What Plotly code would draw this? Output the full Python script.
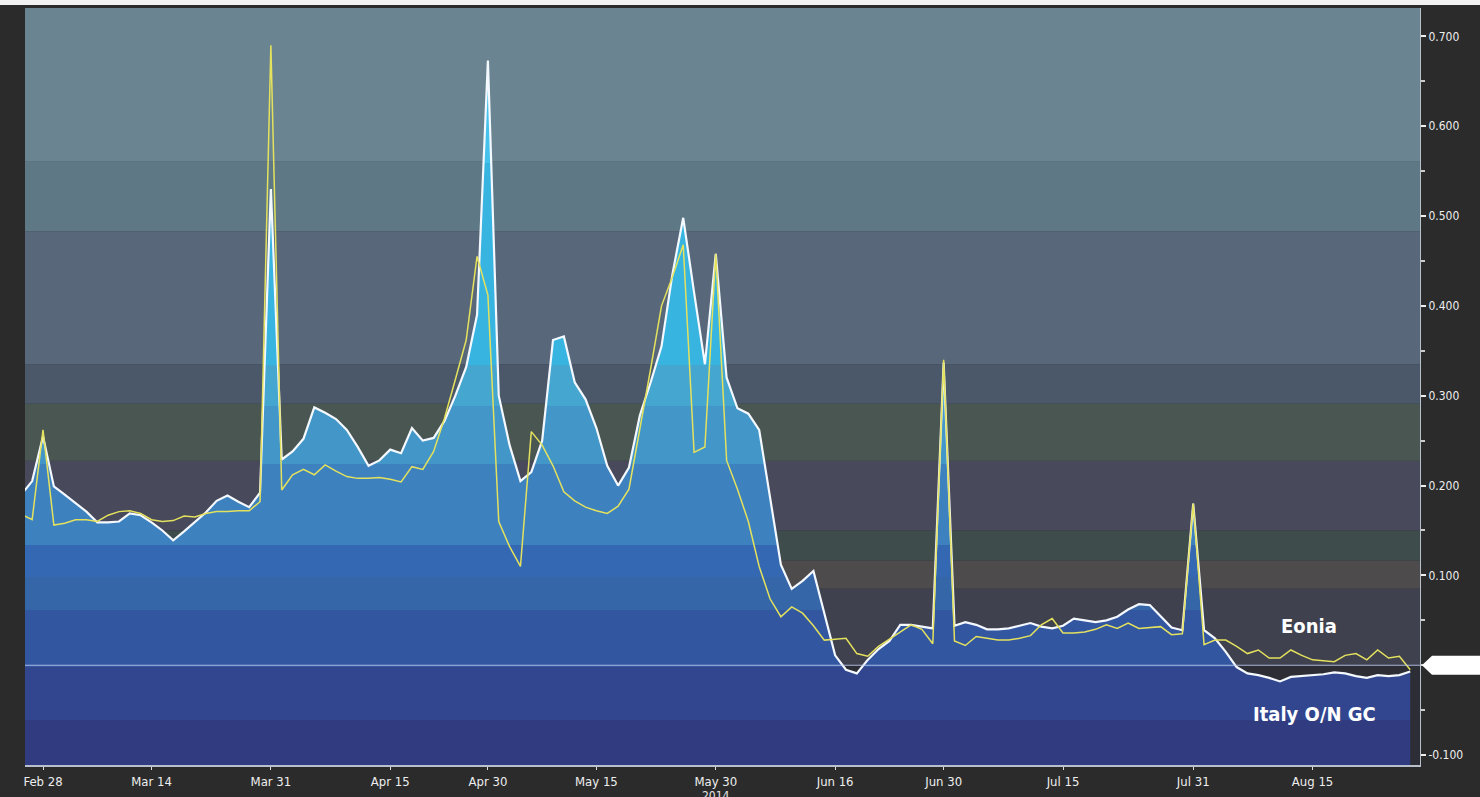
import pandas as pd
import plotly.graph_objects as go

# business days shown on the chart (TARGET holidays have no fixing)
HOLIDAYS = ['2014-04-18', '2014-04-21', '2014-05-01']
DATES = pd.bdate_range('2014-02-26', '2014-08-28', freq='C',
                       holidays=HOLIDAYS).strftime('%Y-%m-%d').tolist()

ITALY_GC = [
    0.190, 0.205, 0.255, 0.199, 0.190, 0.180, 0.171, 0.159, 0.159, 0.160,
    0.169, 0.167, 0.159, 0.150, 0.139, 0.149, 0.159, 0.170, 0.183, 0.189,
    0.182, 0.176, 0.192, 0.530, 0.229, 0.238, 0.252, 0.287, 0.281, 0.274,
    0.262, 0.243, 0.222, 0.228, 0.240, 0.236, 0.264, 0.250, 0.253, 0.272,
    0.300, 0.332, 0.390, 0.673, 0.300, 0.245, 0.205, 0.215, 0.250, 0.362,
    0.366, 0.315, 0.296, 0.264, 0.222, 0.200, 0.220, 0.278, 0.315, 0.355,
    0.435, 0.498, 0.415, 0.335, 0.458, 0.320, 0.286, 0.280, 0.262, 0.185,
    0.112, 0.085, 0.094, 0.105, 0.058, 0.011, -0.005, -0.009, 0.006, 0.018,
    0.027, 0.045, 0.045, 0.043, 0.041, 0.337, 0.044, 0.048, 0.045, 0.040,
    0.040, 0.041, 0.044, 0.047, 0.043, 0.041, 0.044, 0.052, 0.050, 0.048,
    0.050, 0.054, 0.062, 0.068, 0.067, 0.054, 0.042, 0.039, 0.180, 0.039,
    0.030, 0.015, -0.002, -0.009, -0.011, -0.014, -0.018, -0.013, -0.012, -0.011,
    -0.010, -0.008, -0.009, -0.012, -0.014, -0.011, -0.012, -0.011, -0.007,
]

EONIA = [
    0.168, 0.162, 0.262, 0.156, 0.158, 0.162, 0.162, 0.160, 0.167, 0.171,
    0.172, 0.169, 0.162, 0.160, 0.161, 0.166, 0.165, 0.169, 0.171, 0.171,
    0.172, 0.172, 0.182, 0.690, 0.195, 0.212, 0.218, 0.212, 0.223, 0.216,
    0.210, 0.208, 0.208, 0.209, 0.207, 0.204, 0.221, 0.218, 0.238, 0.275,
    0.318, 0.362, 0.455, 0.412, 0.160, 0.132, 0.110, 0.260, 0.245, 0.222,
    0.193, 0.183, 0.176, 0.172, 0.169, 0.177, 0.196, 0.262, 0.330, 0.400,
    0.432, 0.468, 0.237, 0.243, 0.458, 0.228, 0.196, 0.160, 0.110, 0.074,
    0.054, 0.065, 0.058, 0.044, 0.028, 0.029, 0.030, 0.013, 0.010, 0.021,
    0.029, 0.037, 0.045, 0.040, 0.024, 0.340, 0.027, 0.022, 0.032, 0.030,
    0.028, 0.028, 0.030, 0.033, 0.045, 0.052, 0.036, 0.036, 0.037, 0.040,
    0.045, 0.041, 0.047, 0.041, 0.042, 0.043, 0.034, 0.035, 0.180, 0.023,
    0.028, 0.028, 0.021, 0.013, 0.017, 0.008, 0.008, 0.017, 0.011, 0.006,
    0.005, 0.004, 0.011, 0.013, 0.006, 0.017, 0.008, 0.010, -0.005,
]

TICK_DATES = ['2014-02-28', '2014-03-14', '2014-03-31', '2014-04-15',
              '2014-04-30', '2014-05-15', '2014-05-30', '2014-06-16',
              '2014-06-30', '2014-07-15', '2014-07-31', '2014-08-15']
TICK_TEXT = ['Feb 28', 'Mar 14', 'Mar 31', 'Apr 15', 'Apr 30', 'May 15',
             'May 30', 'Jun 16', 'Jun 30', 'Jul 15', 'Jul 31', 'Aug 15']
Y_TICKS = [-0.1, 0.1, 0.2, 0.3, 0.4, 0.5, 0.6, 0.7]

Y_MIN, Y_MAX = -0.111, 0.7315
FONT = 'DejaVu Sans Condensed, DejaVu Sans, sans-serif'

# horizontal stripes: background above the area, gradient inside it
BG_EDGES = [Y_MIN, 0.0, 0.0855, 0.1165, 0.150, 0.2275, 0.291, 0.335, 0.483, 0.5605, Y_MAX]
BG_COLORS = ['#2d2e35', '#40414e', '#4d4b4c', '#3e4c4b', '#48495a',
             '#4a5652', '#4b5869', '#58687a', '#5e7985', '#6a8591']
FILL_EDGES = [Y_MIN, -0.059, 0.0, 0.063, 0.100, 0.135, 0.225, 0.29, 0.335, 0.56, Y_MAX]
FILL_COLORS = ['#313b80', '#31468f', '#3256a0', '#3466a8', '#3568b2',
               '#3d82bf', '#4296c8', '#45a6cf', '#38b4e0', '#45c2ec']


def stepped_scale(edges, colors):
    span = edges[-1] - edges[0]
    scale = []
    for lo, hi, col in zip(edges[:-1], edges[1:], colors):
        scale.append([(lo - edges[0]) / span, col])
        scale.append([(hi - edges[0]) / span, col])
    return scale


fig = go.Figure()

fig.add_trace(go.Scatter(x=DATES, y=[Y_MIN] * len(DATES), mode='lines',
                         line=dict(width=0), hoverinfo='skip'))
fig.add_trace(go.Scatter(
    x=DATES, y=ITALY_GC, mode='lines', name='Italy O/N GC',
    line=dict(color='#f4f8ff', width=2.2),
    fill='tonexty',
    fillgradient=dict(type='vertical', start=Y_MIN, stop=Y_MAX,
                      colorscale=stepped_scale(FILL_EDGES, FILL_COLORS)),
))
fig.add_trace(go.Scatter(x=DATES, y=EONIA, mode='lines', name='Eonia',
                         line=dict(color='#e4e15e', width=1.5)))

for lo, hi, col in zip(BG_EDGES[:-1], BG_EDGES[1:], BG_COLORS):
    fig.add_shape(type='rect', xref='paper', yref='y', x0=0, x1=1, y0=lo, y1=hi,
                  fillcolor=col, line_width=0, layer='below')

# zero line
fig.add_shape(type='line', xref='paper', yref='y', x0=0, x1=1, y0=0, y1=0,
              line=dict(color='rgba(190,205,240,0.85)', width=1), layer='above')

# last-value pointer on the right axis
fig.add_shape(type='path', xref='paper', yref='y',
              path='M 1.0014,0 L 1.0086,0.0105 L 1.045,0.0105 L 1.045,-0.0105 L 1.0086,-0.0105 Z',
              fillcolor='white', line_width=0, layer='above')

# thin white strip along the top edge
fig.add_shape(type='rect', xref='paper', yref='paper', x0=-0.02, x1=1.05,
              y0=1.004, y1=1.011, fillcolor='#f2f2f2', line_width=0)

fig.add_annotation(x=0.9204, y=0.044, xref='paper', yref='y', text='<b>Eonia</b>',
                   xanchor='center', showarrow=False,
                   font=dict(family=FONT, size=20, color='white'))
fig.add_annotation(x=0.9247, y=-0.0544, xref='paper', yref='y', text='<b>Italy O/N GC</b>',
                   xanchor='center', showarrow=False,
                   font=dict(family=FONT, size=20, color='white'))
fig.add_annotation(x='2014-05-30', y=-0.029, xref='x', yref='paper', text='2014',
                   yanchor='top', showarrow=False,
                   font=dict(family=FONT, size=12, color='#e6e6e6'))

fig.update_layout(
    width=1480, height=797,
    margin=dict(l=25, r=60, t=8, b=30),
    paper_bgcolor='#2b2b2b', plot_bgcolor='#2d2e35',
    showlegend=False,
    xaxis=dict(type='category', range=[0.34, 128.9],
               tickvals=TICK_DATES, ticktext=TICK_TEXT,
               showgrid=False, zeroline=False,
               showline=True, linecolor='#b8c0cc', linewidth=2,
               ticks='outside', ticklen=3, tickcolor='#dddddd',
               tickfont=dict(family=FONT, size=13, color='#eeeeee')),
    yaxis=dict(side='right', range=[Y_MIN, Y_MAX],
               tickvals=Y_TICKS, ticktext=[f'{v:.3f}' for v in Y_TICKS],
               showgrid=False, zeroline=False,
               showline=True, linecolor='#b8c0cc', linewidth=1,
               ticks='outside', ticklen=5, tickwidth=2, tickcolor='#eeeeee',
               minor=dict(dtick=0.05, tick0=0, ticks='outside', ticklen=4,
                          tickwidth=2, tickcolor='#cccccc'),
               tickfont=dict(family=FONT, size=12, color='#eeeeee')),
)

fig.write_html("out.html", config={'displayModeBar': False},
               post_script="document.body.style.margin='0';")
